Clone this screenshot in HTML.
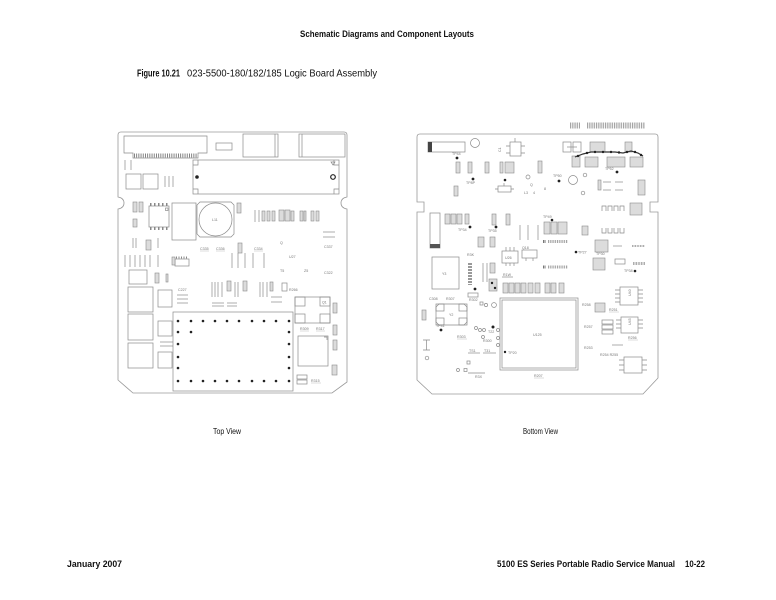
<!DOCTYPE html>
<html>
<head>
<meta charset="utf-8">
<style>
  html,body{margin:0;padding:0;background:#fff;}
  svg{display:block;}
  .s{stroke:#8a8a8a;stroke-width:0.7;fill:none;}
  .o{stroke:#9a9a9a;stroke-width:0.8;fill:none;}
  .h{fill:#dcdcdc;stroke:#8a8a8a;stroke-width:0.6;}
  .d{fill:#222;}
  .t{font-family:"Liberation Sans",sans-serif;font-size:3.6px;fill:#777;}
  .hb{stroke:#9a9a9a;fill:none;stroke-dasharray:0.9 0.9;}
  .txt{font-family:"Liberation Sans",sans-serif;fill:#111;}
</style>
</head>
<body>
<svg width="776" height="600" viewBox="0 0 776 600" xmlns="http://www.w3.org/2000/svg">
<rect x="0" y="0" width="776" height="600" fill="#fff"/>

<!-- Header -->
<text class="txt" x="300" y="37" font-size="9.5" font-weight="bold" textLength="174" lengthAdjust="spacingAndGlyphs">Schematic Diagrams and Component Layouts</text>
<text class="txt" x="137" y="76.5" font-size="10" font-weight="bold" textLength="43" lengthAdjust="spacingAndGlyphs">Figure 10.21</text>
<text class="txt" x="187" y="76.5" font-size="10" textLength="190" lengthAdjust="spacingAndGlyphs">023-5500-180/182/185 Logic Board Assembly</text>

<!-- ================= LEFT BOARD (Top View) ================= -->
<g>
<path class="o" d="M121,132 H344 Q347,132 347,135 V197 Q341,198 341,203 Q341,208 347,209 V382 L332,393 H133 L118,380 V209 Q124,208 124,203 Q124,198 118,197 V135 Q118,132 121,132 Z"/>

<!-- connector -->
<path class="s" d="M124,136 H207 V153 H198 V158 H133 V153 H124 Z"/>
<line x1="134" y1="155.5" x2="197" y2="155.5" stroke="#777" stroke-width="4" stroke-dasharray="0.9 1.3"/>
<line class="s" x1="125" y1="160" x2="125" y2="170"/>
<line class="s" x1="131" y1="160" x2="131" y2="170"/>

<rect class="s" x="216" y="143" width="16" height="7"/>
<rect class="s" x="243" y="134" width="35" height="23"/>
<line class="s" x1="275" y1="134" x2="275" y2="157"/>
<rect class="s" x="299" y="134" width="46" height="23"/>
<line class="s" x1="302" y1="134" x2="302" y2="157"/>

<!-- module -->
<rect class="s" x="193" y="160" width="146" height="34"/>
<path class="s" d="M193,165 H198 V160 M339,165 H334 V160 M193,189 H198 V194 M339,189 H334 V194"/>
<circle cx="197" cy="177" r="1.8" class="d"/>
<circle cx="333" cy="177" r="2.3" fill="none" stroke="#222" stroke-width="1.2"/>
<path class="s" d="M331,162 L335,162 L333,165 Z"/>

<rect class="s" x="126" y="174" width="15" height="15"/>
<rect class="s" x="143" y="174" width="15" height="15"/>
<line class="s" x1="165" y1="176" x2="165" y2="187"/>
<line class="s" x1="169" y1="176" x2="169" y2="187"/>
<line class="s" x1="173" y1="176" x2="173" y2="187"/>

<!-- below notch -->
<rect class="h" x="133" y="202" width="4" height="10"/>
<rect class="h" x="139" y="202" width="4" height="10"/>
<rect class="h" x="133" y="219" width="4" height="8"/>
<rect class="s" x="149" y="206" width="20" height="21"/>
<line x1="150" y1="204.5" x2="168" y2="204.5" stroke="#888" stroke-width="3" stroke-dasharray="1.5 2.5"/>
<line x1="150" y1="228.5" x2="168" y2="228.5" stroke="#888" stroke-width="3" stroke-dasharray="1.5 2.5"/>
<rect class="s" x="165.5" y="208" width="2.5" height="2.5"/>
<rect class="s" x="172" y="203" width="24" height="37"/>
<path class="s" d="M200,202 H231 L234,205 V234 L231,237 H200 L197,234 V205 Z"/>
<circle class="s" cx="215.5" cy="219.5" r="16.5"/>
<text class="t" x="212" y="221">L11</text>
<rect class="h" x="237" y="203" width="4" height="10"/>

<line class="s" x1="255" y1="210" x2="255" y2="222"/>
<line class="s" x1="259" y1="210" x2="259" y2="222"/>
<rect class="h" x="262" y="211" width="3" height="10"/>
<rect class="h" x="267" y="211" width="3" height="10"/>
<rect class="h" x="272" y="211" width="3" height="10"/>
<rect class="h" x="279" y="210" width="5" height="11"/>
<rect class="h" x="285" y="210" width="5" height="11"/>
<rect class="h" x="291" y="211" width="3" height="10"/>
<rect class="h" x="300" y="211" width="3" height="10"/>
<rect class="h" x="304" y="211" width="2" height="10"/>
<rect class="h" x="311" y="211" width="3" height="10"/>
<rect class="h" x="316" y="211" width="3" height="10"/>

<line class="s" x1="323" y1="232" x2="335" y2="232"/>
<line class="s" x1="323" y1="237" x2="335" y2="237"/>
<text class="t" x="324" y="248">C337</text>
<text class="t" x="200" y="250">C335</text>
<text class="t" x="216" y="250">C336</text>
<text class="t" x="254" y="250">C334</text>
<line x1="200" y1="251" x2="209" y2="251" stroke="#aaa" stroke-width="0.4"/>
<line x1="216" y1="251" x2="225" y2="251" stroke="#aaa" stroke-width="0.4"/>
<line x1="254" y1="251" x2="263" y2="251" stroke="#aaa" stroke-width="0.4"/>
<text class="t" x="289" y="258">U27</text>
<text class="t" x="280" y="244">Q</text>
<text class="t" x="280" y="272">T5</text>
<text class="t" x="304" y="272">Z5</text>
<text class="t" x="324" y="274">C322</text>
<rect class="h" x="238" y="243" width="4" height="10"/>

<line class="s" x1="133" y1="238" x2="133" y2="248"/>
<line class="s" x1="136" y1="238" x2="136" y2="248"/>
<rect class="h" x="146" y="240" width="5" height="10"/>
<line class="s" x1="158" y1="238" x2="158" y2="248"/>

<line class="s" x1="125" y1="255" x2="125" y2="267"/>
<line class="s" x1="130" y1="255" x2="130" y2="267"/>
<line class="s" x1="135" y1="255" x2="135" y2="267"/>
<line class="s" x1="140" y1="255" x2="140" y2="267"/>
<line class="s" x1="145" y1="255" x2="145" y2="267"/>
<line class="s" x1="150" y1="255" x2="150" y2="267"/>
<line class="s" x1="158" y1="255" x2="158" y2="267"/>
<rect class="s" x="175" y="259" width="14" height="7"/>
<line x1="176" y1="257.5" x2="188" y2="257.5" stroke="#888" stroke-width="2" stroke-dasharray="1 1.5"/>
<rect class="h" x="172" y="257" width="3" height="8"/>

<line class="s" x1="232" y1="253" x2="232" y2="268"/>
<line class="s" x1="238" y1="253" x2="238" y2="268"/>
<line class="s" x1="245" y1="253" x2="245" y2="268"/>
<line class="s" x1="253" y1="253" x2="253" y2="268"/>
<line class="s" x1="264" y1="253" x2="264" y2="268"/>

<rect class="s" x="129" y="270" width="18" height="14"/>
<rect class="h" x="155" y="273" width="4" height="10"/>
<rect class="h" x="166" y="274" width="2" height="8"/>
<text class="t" x="178" y="291">C227</text>
<line class="s" x1="177" y1="295" x2="188" y2="295"/>
<line class="s" x1="177" y1="299" x2="188" y2="299"/>
<line class="s" x1="177" y1="303" x2="188" y2="303"/>

<line class="s" x1="212" y1="282" x2="212" y2="297"/>
<line class="s" x1="215" y1="282" x2="215" y2="297"/>
<line class="s" x1="218" y1="282" x2="218" y2="297"/>
<line class="s" x1="222" y1="282" x2="222" y2="297"/>
<rect class="h" x="227" y="281" width="4" height="10"/>
<line class="s" x1="235" y1="282" x2="235" y2="297"/>
<line class="s" x1="238" y1="282" x2="238" y2="297"/>
<rect class="h" x="243" y="281" width="4" height="10"/>
<line class="s" x1="260" y1="282" x2="260" y2="297"/>
<line class="s" x1="263" y1="282" x2="263" y2="297"/>
<line class="s" x1="267" y1="282" x2="267" y2="297"/>
<rect class="h" x="270" y="282" width="3" height="9"/>
<rect class="s" x="282" y="283" width="5" height="8"/>
<text class="t" x="289" y="291" font-size="3">R266</text>
<line class="s" x1="212" y1="303" x2="224" y2="303"/>
<line class="s" x1="227" y1="303" x2="237" y2="303"/>
<line class="s" x1="212" y1="306" x2="224" y2="306"/>
<line class="s" x1="227" y1="306" x2="237" y2="306"/>
<line class="s" x1="271" y1="297" x2="282" y2="297"/>
<line class="s" x1="271" y1="302" x2="282" y2="302"/>

<rect class="s" x="128" y="287" width="25" height="25"/>
<rect class="s" x="128" y="314" width="25" height="26"/>
<rect class="s" x="128" y="343" width="25" height="25"/>
<rect class="s" x="158" y="290" width="14" height="17"/>
<rect class="s" x="158" y="321" width="14" height="15"/>
<rect class="s" x="158" y="352" width="14" height="16"/>
<line class="s" x1="160" y1="342" x2="173" y2="342"/>
<line class="s" x1="160" y1="346" x2="173" y2="346"/>

<!-- dotted shield -->
<rect class="s" x="173" y="312" width="120" height="79"/>
<g class="d">
<circle cx="178" cy="321" r="1.3"/><circle cx="191" cy="321" r="1.3"/><circle cx="203" cy="321" r="1.3"/><circle cx="215" cy="321" r="1.3"/><circle cx="227" cy="321" r="1.3"/><circle cx="239" cy="321" r="1.3"/><circle cx="252" cy="321" r="1.3"/><circle cx="264" cy="321" r="1.3"/><circle cx="276" cy="321" r="1.3"/><circle cx="289" cy="321" r="1.3"/>
<circle cx="178" cy="381" r="1.3"/><circle cx="191" cy="381" r="1.3"/><circle cx="203" cy="381" r="1.3"/><circle cx="215" cy="381" r="1.3"/><circle cx="227" cy="381" r="1.3"/><circle cx="239" cy="381" r="1.3"/><circle cx="252" cy="381" r="1.3"/><circle cx="264" cy="381" r="1.3"/><circle cx="276" cy="381" r="1.3"/><circle cx="289" cy="381" r="1.3"/>
<circle cx="178" cy="332" r="1.3"/><circle cx="178" cy="344" r="1.3"/><circle cx="178" cy="357" r="1.3"/><circle cx="178" cy="368" r="1.3"/>
<circle cx="289" cy="332" r="1.3"/><circle cx="289" cy="344" r="1.3"/><circle cx="289" cy="357" r="1.3"/><circle cx="289" cy="368" r="1.3"/>
<circle cx="191" cy="332" r="1.3"/>
</g>

<!-- right side parts -->
<rect class="s" x="295" y="297" width="35" height="26"/>
<rect class="s" x="295" y="297" width="10" height="9"/>
<rect class="s" x="320" y="297" width="10" height="9"/>
<rect class="s" x="295" y="314" width="10" height="9"/>
<rect class="s" x="320" y="314" width="10" height="9"/>
<text class="t" x="322" y="303.5" font-size="3">Q1</text>
<rect class="h" x="333" y="303" width="4" height="10"/>
<text class="t" x="300" y="330" font-size="3.2">R309</text>
<text class="t" x="316" y="330" font-size="3.2">R317</text>
<line x1="300" y1="331" x2="309" y2="331" stroke="#aaa" stroke-width="0.4"/>
<line x1="316" y1="331" x2="325" y2="331" stroke="#aaa" stroke-width="0.4"/>
<rect class="h" x="333" y="325" width="4" height="10"/>
<rect class="h" x="333" y="340" width="4" height="10"/>
<rect class="s" x="298" y="336" width="30" height="30"/>
<path class="s" d="M324,337 L327,337 L327,340"/>
<rect class="h" x="332" y="365" width="5" height="10"/>
<rect class="s" x="297" y="375" width="10" height="4"/>
<rect class="s" x="297" y="380" width="10" height="4"/>
<text class="t" x="311" y="382" font-size="3.2">R315</text>
<line x1="311" y1="383" x2="321" y2="383" stroke="#aaa" stroke-width="0.4"/>
</g>

<!-- ================= RIGHT BOARD (Bottom View) ================= -->
<g>
<path class="o" d="M420,134 H655 Q658,134 658,137 V202 H650 V212 H658 V378 L643,394 H432 L417,380 V212 H424 V202 H417 V137 Q417,134 420,134 Z"/>

<!-- labels above board -->
<line class="hb" x1="570" y1="125.5" x2="580" y2="125.5" stroke-width="6"/>
<line class="hb" x1="587" y1="125.5" x2="645" y2="125.5" stroke-width="6"/>

<rect class="s" x="428" y="142" width="37" height="10"/>
<rect x="428" y="142" width="4" height="10" fill="#444"/>
<circle class="s" cx="475" cy="143" r="4.5"/>
<text class="t" x="497" y="152" font-size="3.2" transform="rotate(-90 499 150)">C1</text>
<rect class="s" x="510" y="142" width="11" height="14"/>
<path class="s" d="M515,138 V142 M506,146 H510 M506,153 H510 M521,146 H525 M521,153 H525"/>
<circle class="d" cx="457" cy="158" r="1.4"/>
<text class="t" x="452" y="155" font-size="3">TP44</text>
<rect class="h" x="456" y="162" width="4" height="11"/>
<rect class="h" x="468" y="162" width="4" height="11"/>
<rect class="h" x="485" y="162" width="4" height="11"/>
<rect class="h" x="500" y="162" width="3" height="11"/>
<rect class="h" x="505" y="162" width="9" height="11"/>
<rect class="h" x="538" y="161" width="4" height="12"/>
<circle class="d" cx="473" cy="179" r="1.4"/>
<text class="t" x="466" y="184" font-size="3">TP8P</text>
<rect class="h" x="454" y="186" width="4" height="10"/>
<rect class="s" x="498" y="186" width="13" height="6"/>
<path class="s" d="M495,189 H498 M511,189 H514 M504,186 V183"/>
<circle class="d" cx="505" cy="180" r="1.3"/>
<circle class="s" cx="528" cy="177" r="2"/>
<text class="t" x="530" y="186" font-size="3">Q</text>
<text class="t" x="524" y="194" font-size="3">L3</text>
<text class="t" x="533" y="194" font-size="3">4</text>
<text class="t" x="544" y="190" font-size="3">8</text>

<circle class="d" cx="559" cy="181" r="1.4"/>
<text class="t" x="553" y="177" font-size="3">TP50</text>
<circle class="s" cx="573" cy="180" r="4.5"/>
<circle class="s" cx="585" cy="175" r="1.8"/>
<circle class="s" cx="583" cy="193" r="1.8"/>

<!-- top-right cluster -->
<rect class="s" x="563" y="142" width="8" height="10"/>
<rect class="s" x="573" y="142" width="8" height="10"/>
<line class="s" x1="567" y1="147" x2="577" y2="147"/>
<rect class="h" x="590" y="142" width="15" height="10"/>
<rect class="h" x="625" y="142" width="7" height="10"/>
<rect class="h" x="572" y="156" width="8" height="11"/>
<rect class="h" x="585" y="157" width="13" height="10"/>
<rect class="h" x="607" y="157" width="18" height="10"/>
<rect class="h" x="630" y="157" width="13" height="10"/>
<polyline points="575,157 583,154 591,152 599,152 607,152 615,152 623,153 631,151 638,153 643,156" fill="none" stroke="#333" stroke-width="1.2"/>
<g class="d">
<circle cx="578" cy="156" r="1.2"/><circle cx="587" cy="153" r="1.2"/><circle cx="595" cy="152" r="1.2"/><circle cx="603" cy="152" r="1.2"/><circle cx="611" cy="152" r="1.2"/><circle cx="619" cy="152.5" r="1.2"/><circle cx="627" cy="152" r="1.2"/><circle cx="635" cy="152" r="1.2"/><circle cx="641" cy="155" r="1.2"/>
</g>
<circle class="d" cx="617" cy="172" r="1.4"/>
<text class="t" x="605" y="170" font-size="3">TP52</text>

<rect class="h" x="598" y="180" width="3" height="10"/>
<line class="s" x1="603" y1="182" x2="611" y2="182"/>
<line class="s" x1="615" y1="182" x2="623" y2="182"/>
<line class="s" x1="603" y1="190" x2="611" y2="190"/>
<line class="s" x1="615" y1="190" x2="623" y2="190"/>
<rect class="h" x="638" y="180" width="7" height="15"/>
<path class="s" d="M602,211 V206 H606 V211 M608,211 V206 H612 V211 M614,211 V206 H618 V211 M620,211 V206 H624 V211"/>
<rect class="h" x="630" y="203" width="12" height="12"/>

<rect class="s" x="430" y="213" width="10" height="35"/>
<rect x="430" y="244" width="10" height="4" fill="#555"/>
<rect class="h" x="445" y="214" width="5" height="10"/>
<rect class="h" x="451" y="214" width="5" height="10"/>
<rect class="h" x="457" y="214" width="5" height="10"/>
<rect class="h" x="465" y="214" width="4" height="10"/>
<circle class="d" cx="470" cy="227" r="1.4"/>
<text class="t" x="458" y="231" font-size="3">TP34</text>
<rect class="h" x="492" y="214" width="4" height="11"/>
<rect class="h" x="506" y="214" width="4" height="11"/>
<circle class="d" cx="496" cy="227" r="1.4"/>
<text class="t" x="488" y="232" font-size="3">TP35</text>
<line class="s" x1="520" y1="225" x2="520" y2="240"/>
<line class="s" x1="528" y1="225" x2="528" y2="240"/>
<line class="s" x1="538" y1="225" x2="538" y2="240"/>
<circle class="d" cx="552" cy="220" r="1.3"/>
<text class="t" x="543" y="218" font-size="3">TP49</text>
<rect class="h" x="544" y="222" width="6" height="12"/>
<rect class="h" x="551" y="222" width="6" height="12"/>
<rect class="h" x="558" y="222" width="9" height="12"/>
<rect class="h" x="582" y="226" width="6" height="9"/>
<path class="s" d="M602,228 V233 H606 V228 M608,228 V233 H612 V228 M614,228 V233 H618 V228 M620,228 V233 H624 V228"/>

<line x1="543" y1="241.5" x2="546" y2="241.5" stroke="#555" stroke-width="3" stroke-dasharray="0.8 0.8"/>
<line class="hb" x1="548" y1="241.5" x2="568" y2="241.5" stroke-width="3"/>
<line x1="543" y1="267" x2="546" y2="267" stroke="#555" stroke-width="3" stroke-dasharray="0.8 0.8"/>
<line class="hb" x1="548" y1="267" x2="568" y2="267" stroke-width="3"/>

<rect class="h" x="478" y="237" width="6" height="10"/>
<rect class="h" x="490" y="237" width="5" height="10"/>
<rect class="h" x="595" y="240" width="13" height="12"/>
<circle class="d" cx="576" cy="252" r="1.3"/>
<text class="t" x="578" y="253.5" font-size="3">TP27</text>
<text class="t" x="596" y="255" font-size="3">TP30</text>
<line class="s" x1="613" y1="246" x2="622" y2="246"/>
<line x1="632" y1="246" x2="645" y2="246" stroke="#999" stroke-width="2" stroke-dasharray="0.8 0.8"/>

<rect class="s" x="432" y="257" width="27" height="32"/>
<text class="t" x="442" y="275">Y3</text>
<rect class="s" x="502" y="251" width="16" height="12"/>
<path class="s" d="M506,247 V251 M510,247 V251 M514,247 V251 M506,263 V266 M510,263 V266 M514,263 V266"/>
<text class="t" x="505" y="259" font-size="3">U26</text>
<rect class="s" x="522" y="250" width="15" height="8"/>
<path class="s" d="M526,258 V261 M533,258 V261"/>
<text class="t" x="522" y="249" font-size="3">Q18</text>
<text class="t" x="467" y="256" font-size="3">R3K</text>

<line x1="470" y1="263" x2="470" y2="285" stroke="#999" stroke-width="4" stroke-dasharray="2 1"/>
<line class="s" x1="483" y1="263" x2="483" y2="282"/>
<line class="s" x1="487" y1="263" x2="487" y2="282"/>
<rect class="h" x="490" y="263" width="5" height="10"/>
<rect class="h" x="489" y="279" width="8" height="12"/>
<circle class="d" cx="492" cy="283" r="1.2"/>
<circle class="d" cx="495" cy="288" r="1.2"/>
<text class="t" x="503" y="276" font-size="3">R1W</text>
<line class="s" x1="502" y1="277" x2="513" y2="277"/>
<rect class="h" x="503" y="283" width="5" height="10"/>
<rect class="h" x="509" y="283" width="5" height="10"/>
<rect class="h" x="515" y="283" width="5" height="10"/>
<rect class="h" x="521" y="283" width="5" height="10"/>
<rect class="h" x="528" y="283" width="5" height="10"/>
<rect class="h" x="535" y="283" width="5" height="10"/>
<rect class="h" x="545" y="283" width="5" height="10"/>
<rect class="h" x="551" y="283" width="5" height="10"/>
<rect class="h" x="559" y="283" width="5" height="10"/>

<text class="t" x="429" y="300" font-size="3">C308</text>
<text class="t" x="446" y="300" font-size="3">R307</text>
<path class="s" d="M439,304 H464 L467,307 V322 L464,325 H439 L436,322 V307 Z"/>
<rect class="s" x="436" y="304" width="8" height="7"/>
<rect class="s" x="459" y="304" width="8" height="7"/>
<rect class="s" x="436" y="318" width="8" height="7"/>
<rect class="s" x="459" y="318" width="8" height="7"/>
<text class="t" x="449" y="316">Y2</text>
<rect class="h" x="422" y="310" width="4" height="10"/>
<circle class="d" cx="441" cy="330" r="1.4"/>
<text class="t" x="436" y="327" font-size="3">TP41</text>
<text class="t" x="457" y="338" font-size="3.2">R303</text>
<line x1="457" y1="339" x2="467" y2="339" stroke="#aaa" stroke-width="0.4"/>

<circle class="d" cx="475" cy="289" r="1.4"/>
<rect class="s" x="468" y="293" width="10" height="4"/>
<text class="t" x="469" y="301" font-size="3">R302</text>
<rect class="s" x="480" y="302" width="3" height="3"/>
<circle class="s" cx="486" cy="305" r="1.6"/>
<circle class="s" cx="494" cy="305" r="2.4"/>

<circle class="s" cx="476" cy="328" r="1.5"/>
<circle class="s" cx="480" cy="330" r="1.5"/>
<circle class="s" cx="484" cy="330" r="1.5"/>
<circle class="s" cx="483" cy="337" r="1.5"/>
<circle class="d" cx="493" cy="327" r="1.5"/>
<circle class="s" cx="498" cy="330" r="1.5"/>
<circle class="s" cx="498" cy="338" r="1.5"/>
<circle class="s" cx="498" cy="345" r="1.5"/>
<text class="t" x="488" y="333" font-size="3">T22</text>
<text class="t" x="483" y="342" font-size="3">R300</text>
<text class="t" x="469" y="352" font-size="3.2">TS1</text>
<line class="s" x1="468" y1="353" x2="480" y2="353"/>
<text class="t" x="484" y="352" font-size="3.2">T31</text>
<line class="s" x1="483" y1="353" x2="496" y2="353"/>
<circle class="d" cx="505" cy="352" r="1.2"/>
<text class="t" x="508" y="354" font-size="3">TP20</text>

<path class="s" d="M423,340 H430 M426.5,340 V350 M423,350 H430"/>
<circle class="s" cx="427" cy="358" r="1.8"/>
<rect class="s" x="467" y="361" width="3" height="3"/>
<circle class="s" cx="458" cy="370" r="1.5"/>
<rect class="s" x="464" y="368.5" width="3" height="3"/>
<line class="s" x1="468" y1="373" x2="485" y2="373"/>
<text class="t" x="475" y="378" font-size="3.2">R3X</text>

<!-- U125 -->
<rect class="s" x="500" y="298" width="78" height="72"/>
<rect class="s" x="502" y="300" width="74" height="68"/>
<text class="t" x="533" y="336">U125</text>
<text class="t" x="534" y="377" font-size="3.2">R207</text>
<line x1="534" y1="378" x2="544" y2="378" stroke="#aaa" stroke-width="0.4"/>

<text class="t" x="582" y="306" font-size="3.2">R258</text>
<rect class="h" x="595" y="303" width="10" height="9"/>
<text class="t" x="609" y="311" font-size="3.2">R251</text>
<line x1="609" y1="312" x2="619" y2="312" stroke="#aaa" stroke-width="0.4"/>
<rect class="s" x="620" y="287" width="18" height="18"/>
<path class="s" d="M615,290 H620 M615,294 H620 M615,298 H620 M615,302 H620 M638,290 H643 M638,294 H643 M638,298 H643 M638,302 H643"/>
<text class="t" x="630" y="297" font-size="3.2" transform="rotate(-90 630 296)">U40</text>
<text class="t" x="584" y="328" font-size="3.2">R257</text>
<rect class="s" x="602" y="320" width="11" height="4"/>
<rect class="s" x="602" y="325" width="11" height="4"/>
<rect class="s" x="602" y="330" width="11" height="4"/>
<rect class="s" x="621" y="317" width="17" height="16"/>
<path class="s" d="M616,320 H621 M616,324 H621 M616,328 H621 M638,320 H643 M638,324 H643 M638,328 H643"/>
<text class="t" x="630" y="326" font-size="3.2" transform="rotate(-90 630 325)">U45</text>
<text class="t" x="628" y="339" font-size="3.2">R256</text>
<line x1="628" y1="340" x2="638" y2="340" stroke="#aaa" stroke-width="0.4"/>
<text class="t" x="584" y="349" font-size="3.2">R253</text>
<line class="s" x1="612" y1="345" x2="623" y2="345"/>
<text class="t" x="600" y="356" font-size="3">R254 R255</text>
<rect class="s" x="624" y="357" width="18" height="16"/>
<path class="s" d="M619,360 H624 M619,365 H624 M619,370 H624 M642,360 H647 M642,365 H647 M642,370 H647"/>
<circle class="d" cx="635" cy="271" r="1.3"/>
<text class="t" x="624" y="272" font-size="3">TP38</text>
<rect class="h" x="593" y="258" width="12" height="12"/>
<rect class="s" x="615" y="259" width="10" height="5"/>
<line x1="633" y1="263.5" x2="645" y2="263.5" stroke="#999" stroke-width="3" stroke-dasharray="0.8 0.8"/>
<line x1="535" y1="288" x2="567" y2="288" stroke="#999" stroke-width="0"/>
</g>

<!-- Captions -->
<text class="txt" x="213" y="434" font-size="8" textLength="28" lengthAdjust="spacingAndGlyphs">Top View</text>
<text class="txt" x="523" y="434" font-size="8" textLength="35" lengthAdjust="spacingAndGlyphs">Bottom View</text>

<!-- Footer -->
<text class="txt" x="67" y="567" font-size="9.5" font-weight="bold" textLength="55" lengthAdjust="spacingAndGlyphs">January 2007</text>
<text class="txt" x="497" y="567" font-size="9.5" font-weight="bold" textLength="178" lengthAdjust="spacingAndGlyphs">5100 ES Series Portable Radio Service Manual</text>
<text class="txt" x="685" y="567" font-size="9.5" font-weight="bold" textLength="20" lengthAdjust="spacingAndGlyphs">10-22</text>
</svg>
</body>
</html>
